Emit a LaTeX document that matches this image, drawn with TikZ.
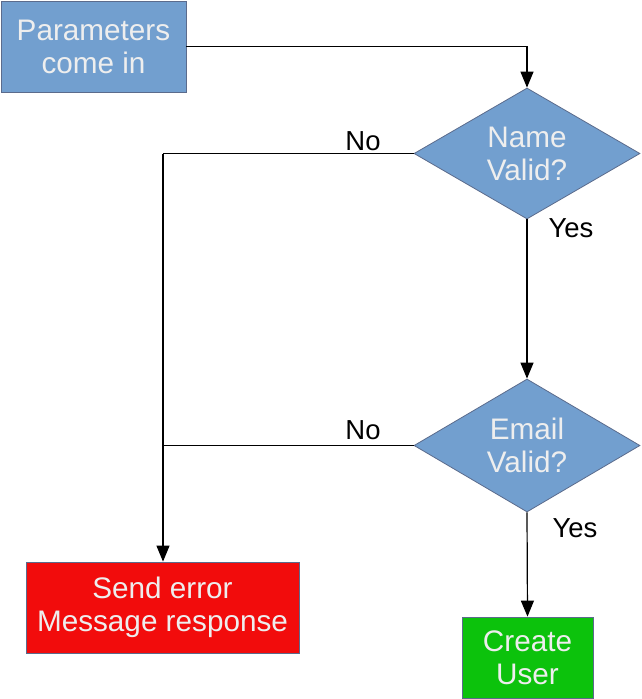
\documentclass[tikz,border=0pt]{standalone}
\usepackage{fontspec}
\setmainfont{Liberation Sans}
\usetikzlibrary{shapes.geometric,arrows.meta}
\definecolor{boxblue}{HTML}{729FCF}
\definecolor{boxred}{HTML}{F20C0C}
\definecolor{boxgreen}{HTML}{0CC20C}
\definecolor{edgegrey}{HTML}{5B6B8C}
\definecolor{txtlight}{HTML}{EEEEEE}
\begin{document}
\begin{tikzpicture}[x=1pt,y=-1pt,
  boxtext/.style={font=\fontsize{29.7}{33}\selectfont, text=txtlight, align=center, inner sep=0pt},
  procbox/.style={boxtext, draw=edgegrey, line width=0.8pt, rectangle},
  decision/.style={boxtext, draw=edgegrey, line width=0.8pt, diamond, shape aspect=1.725, fill=boxblue},
  lbl/.style={font=\fontsize{27.5}{30}\selectfont, text=black, inner sep=0pt},
  conn/.style={line width=1.2pt, -{Triangle[length=16pt,width=13pt]}},
  plain/.style={line width=1.2pt}]
\useasboundingbox (0,0) rectangle (641,699);
\node[procbox, fill=boxblue, minimum width=185pt, minimum height=91pt] (params) at (93.5,46.5) {Parameters\\come in};
\node[decision, minimum width=226pt, minimum height=131pt] (name) at (527,153.5) {Name\\Valid?};
\node[decision, minimum width=226pt, minimum height=133pt] (email) at (527,445.5) {Email\\Valid?};
\node[procbox, fill=boxred, minimum width=273pt, minimum height=91pt] (error) at (162.5,607.5) {Send error\\Message response};
\node[procbox, fill=boxgreen, minimum width=131pt, minimum height=81pt] (create) at (527.5,657.5) {Create\\User};
\coordinate (j1) at (163,153.5);
\coordinate (j2) at (163,445.5);
\draw[conn] (params.east) -| (name.north);
\draw[plain] (name.west) -- (j1);
\draw[conn] (j1) -- (j1 |- error.north);
\draw[plain] (email.west) -- (j2);
\draw[conn] (name.south) -- (email.north);
\draw[conn] (email.south) -- (create.north);
\node[lbl] (no1) at (363,141) {No};
\node[lbl] (no2) at (363,430) {No};
\node[lbl] (yes1) at (571,228) {Yes};
\node[lbl] (yes2) at (575,528) {Yes};
\end{tikzpicture}
\end{document}
